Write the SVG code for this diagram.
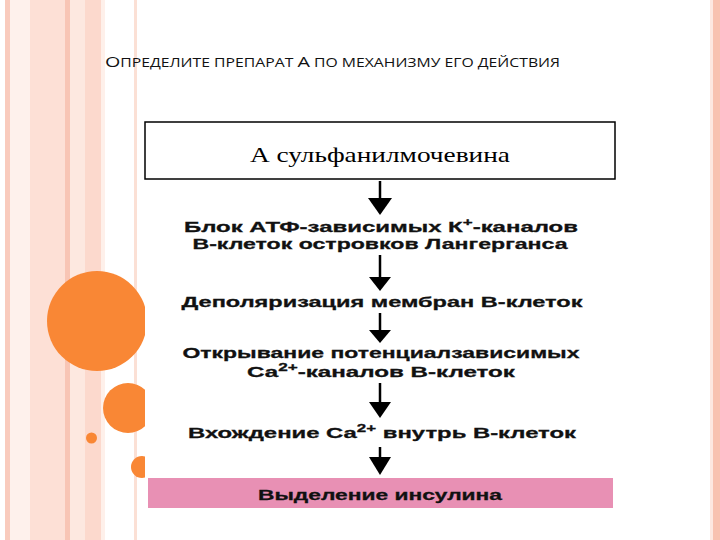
<svg xmlns="http://www.w3.org/2000/svg" width="720" height="540" viewBox="0 0 720 540">
<defs>
<style>
.step{font-family:"Liberation Sans",Arial,sans-serif;font-weight:bold;font-size:15.5px;fill:#111;stroke:#111;stroke-width:0.3;text-anchor:middle}
.conn line{stroke:#000;stroke-width:2.5}
.conn polygon{fill:#000}
.title{font-family:"Open Sans","Liberation Sans",sans-serif;fill:#111}
</style>
<clipPath id="left"><rect x="0" y="0" width="145" height="540"/></clipPath>
</defs>
<rect x="0" y="0" width="720" height="540" fill="#fff"/>
<g id="stripes">
<rect x="5" y="0" width="5" height="540" fill="#f9cbbd"/>
<rect x="10" y="0" width="20" height="540" fill="#fef1ec"/>
<rect x="30" y="0" width="35" height="540" fill="#fde0d6"/>
<rect x="65" y="0" width="5" height="540" fill="#f8c5b5"/>
<rect x="70" y="0" width="15" height="540" fill="#fde8e0"/>
<rect x="85" y="0" width="16" height="540" fill="#fcd9cd"/>
<rect x="101" y="0" width="4" height="540" fill="#fef0ea"/>
<rect x="134" y="0" width="3" height="540" fill="#fbe0d5"/>
<rect x="710" y="0" width="3" height="540" fill="#fde8e0"/>
<rect x="713" y="0" width="7" height="540" fill="#f8c2b0"/>
</g>
<g id="circles" clip-path="url(#left)" fill="#f98735">
<circle cx="97" cy="321" r="50"/>
<circle cx="128" cy="408" r="25"/>
<circle cx="91.5" cy="438" r="5.5"/>
<circle cx="142" cy="467" r="11"/>
</g>
<g id="title" class="title"><text x="105" y="67" textLength="455" lengthAdjust="spacingAndGlyphs"><tspan font-size="15">О</tspan><tspan font-size="12">ПРЕДЕЛИТЕ ПРЕПАРАТ </tspan><tspan font-size="15">А</tspan><tspan font-size="12"> ПО МЕХАНИЗМУ ЕГО ДЕЙСТВИЯ</tspan></text></g>
<g id="drug">
<rect x="145" y="122" width="470" height="57" fill="#fff" stroke="#000" stroke-width="1.5"/>
<text x="380" y="162" font-family="'Liberation Serif','Times New Roman',serif" font-size="21" text-anchor="middle" fill="#000" textLength="260" lengthAdjust="spacingAndGlyphs">А сульфанилмочевина</text>
</g>
<g id="step1"><text class="step" x="381" y="232" textLength="394" lengthAdjust="spacingAndGlyphs">Блок АТФ-зависимых К<tspan dy="-6" font-size="11">+</tspan><tspan dy="6">-каналов</tspan></text>
<text class="step" x="380" y="249" textLength="375" lengthAdjust="spacingAndGlyphs">В-клеток островков Лангерганса</text></g>
<g id="step2"><text class="step" x="382" y="307" textLength="401" lengthAdjust="spacingAndGlyphs">Деполяризация мембран В-клеток</text></g>
<g id="step3"><text class="step" x="381" y="358" textLength="397" lengthAdjust="spacingAndGlyphs">Открывание потенциалзависимых</text>
<text class="step" x="381" y="377" textLength="268" lengthAdjust="spacingAndGlyphs">Са<tspan dy="-6" font-size="11">2+</tspan><tspan dy="6">-каналов В-клеток</tspan></text></g>
<g id="step4"><text class="step" x="382" y="438" textLength="388" lengthAdjust="spacingAndGlyphs">Вхождение Са<tspan dy="-6" font-size="11">2+</tspan><tspan dy="6"> внутрь В-клеток</tspan></text></g>
<g id="result">
<rect x="148" y="478" width="465" height="30" fill="#e890b4"/>
<text class="step" x="380" y="500" font-size="14" fill="#2a1020" stroke="#2a1020" textLength="244" lengthAdjust="spacingAndGlyphs">Выделение инсулина</text>
</g>
<g id="connectors" class="conn">
<line x1="380" y1="181" x2="380" y2="200"/><polygon points="368,198 392,198 380,215"/>
<line x1="380" y1="255" x2="380" y2="279"/><polygon points="369,277 391,277 380,291"/>
<line x1="380" y1="313" x2="380" y2="332"/><polygon points="369,330 391,330 380,343"/>
<line x1="380" y1="383" x2="380" y2="404"/><polygon points="369,402 391,402 380,418"/>
<line x1="380" y1="447" x2="380" y2="459"/><polygon points="369,457 391,457 380,475"/>
</g>
</svg>
